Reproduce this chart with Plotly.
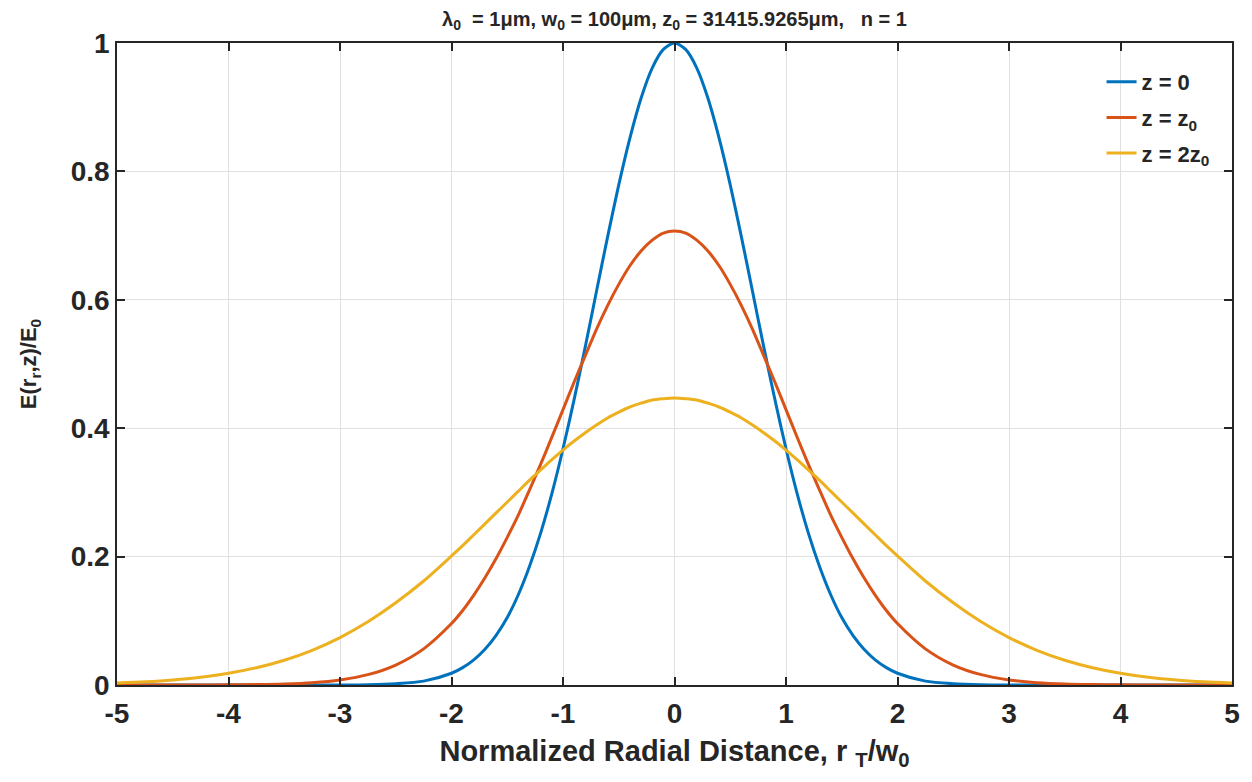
import plotly.graph_objects as go

x_vals = [-5.0, -4.75, -4.5, -4.25, -4.0, -3.75, -3.5, -3.25, -3.0, -2.75, -2.5, -2.25,
          -2.0, -1.9, -1.8, -1.7, -1.6, -1.5, -1.4, -1.3, -1.2, -1.1, -1.0, -0.9, -0.8, -0.7, -0.6, -0.5, -0.4, -0.3, -0.2, -0.1,
          0.0, 0.1, 0.2, 0.3, 0.4, 0.5, 0.6, 0.7, 0.8, 0.9, 1.0, 1.1, 1.2, 1.3, 1.4, 1.5, 1.6, 1.7, 1.8, 1.9, 2.0,
          2.25, 2.5, 2.75, 3.0, 3.25, 3.5, 3.75, 4.0, 4.25, 4.5, 4.75, 5.0]

z0_vals = [0.0, 0.0, 0.0, 0.0, 0.0, 0.0, 0.0, 0.0, 0.0001, 0.0005, 0.002, 0.006,
           0.0183, 0.0271, 0.0392, 0.0556, 0.0773, 0.105, 0.141, 0.185, 0.237, 0.298, 0.368, 0.445, 0.527, 0.613, 0.698, 0.779, 0.852, 0.914, 0.961, 0.990,
           1.000, 0.990, 0.961, 0.914, 0.852, 0.779, 0.698, 0.613, 0.527, 0.445, 0.368, 0.298, 0.237, 0.185, 0.141, 0.105, 0.0773, 0.0556, 0.0392, 0.0271, 0.0183,
           0.006, 0.002, 0.0005, 0.0001, 0.0, 0.0, 0.0, 0.0, 0.0, 0.0, 0.0, 0.0]

zz0_vals = [0.0, 0.00001, 0.00003, 0.0001, 0.0002, 0.0006, 0.0015, 0.0036, 0.0079, 0.0161, 0.0311, 0.0563,
            0.0957, 0.116, 0.140, 0.167, 0.197, 0.230, 0.265, 0.304, 0.344, 0.386, 0.429, 0.472, 0.513, 0.554, 0.591, 0.624, 0.653, 0.676, 0.693, 0.704,
            0.707, 0.704, 0.693, 0.676, 0.653, 0.624, 0.591, 0.554, 0.513, 0.472, 0.429, 0.386, 0.344, 0.304, 0.265, 0.230, 0.197, 0.167, 0.140, 0.116, 0.0957,
            0.0563, 0.0311, 0.0161, 0.0079, 0.0036, 0.0015, 0.0006, 0.0002, 0.0001, 0.00003, 0.00001, 0.0]

z2z0_vals = [0.0030, 0.0049, 0.0078, 0.0121, 0.0182, 0.0269, 0.0386, 0.0541, 0.0739, 0.0985, 0.128, 0.162,
             0.201, 0.217, 0.234, 0.251, 0.268, 0.285, 0.302, 0.319, 0.335, 0.351, 0.366, 0.380, 0.393, 0.405, 0.416, 0.425, 0.433, 0.439, 0.444, 0.446,
             0.447, 0.446, 0.444, 0.439, 0.433, 0.425, 0.416, 0.405, 0.393, 0.380, 0.366, 0.351, 0.335, 0.319, 0.302, 0.285, 0.268, 0.251, 0.234, 0.217, 0.201,
             0.162, 0.128, 0.0985, 0.0739, 0.0541, 0.0386, 0.0269, 0.0182, 0.0121, 0.0078, 0.0049, 0.0030]

series_names = ["z = 0", "z = z<sub>0</sub>", "z = 2z<sub>0</sub>"]
series_colors = ["#0072BD", "#D95319", "#EDB120"]

x_ticks = [-5, -4, -3, -2, -1, 0, 1, 2, 3, 4, 5]
x_tick_text = ["-5", "-4", "-3", "-2", "-1", "0", "1", "2", "3", "4", "5"]
y_ticks = [0, 0.2, 0.4, 0.6, 0.8, 1]
y_tick_text = ["0", "0.2", "0.4", "0.6", "0.8", "1"]

FONT = "Liberation Sans, Arial, sans-serif"
INK = "#262626"

fig = go.Figure()
for i, (vals, name, color) in enumerate(zip([z0_vals, zz0_vals, z2z0_vals], series_names, series_colors)):
    fig.add_trace(go.Scatter(x=x_vals, y=vals, mode="lines", name=name, legendgroup=f"g{i}",
                             line=dict(color=color, width=3, shape="spline", smoothing=0.8)))

axis_common = dict(
    showline=True, linecolor=INK, linewidth=1.5, mirror="ticks",
    ticks="inside", ticklen=8, tickwidth=1.5, tickcolor=INK,
    showgrid=True, gridcolor="#e0e0e0", gridwidth=1, zeroline=False,
    tickfont=dict(family=FONT, size=28, color=INK, weight="bold"),
)

# page body has an 8px margin, so the figure is sized 8px smaller on each side
fig.update_layout(
    width=1244, height=774,
    margin=dict(l=109, r=14, t=35, b=97),
    paper_bgcolor="white", plot_bgcolor="white",
    title=dict(text="λ<sub>0</sub>  = 1μm, w<sub>0</sub> = 100μm, z<sub>0</sub> = 31415.9265μm,   n = 1",
               x=0.5, xref="paper", xanchor="center", y=0.986, yref="container", yanchor="middle",
               font=dict(family=FONT, size=20, color=INK, weight="bold")),
    xaxis=dict(range=[-5, 5], tickvals=x_ticks, ticktext=x_tick_text, ticklabelstandoff=3, **axis_common,
               title=dict(text="Normalized Radial Distance, r <sub>T</sub>/w<sub>0</sub>", standoff=12,
                          font=dict(family=FONT, size=29, color=INK, weight="bold"))),
    yaxis=dict(range=[0, 1], tickvals=y_ticks, ticktext=y_tick_text, **axis_common,
               title=dict(text="E(r<sub>r</sub>,z)/E<sub>0</sub>", standoff=28,
                          font=dict(family=FONT, size=22, color=INK, weight="bold"))),
    legend=dict(x=0.883, y=0.972, xanchor="left", yanchor="top",
                bgcolor="rgba(0,0,0,0)", borderwidth=0,
                font=dict(family=FONT, size=22, color=INK, weight="bold"),
                tracegroupgap=4),
    showlegend=True,
)

fig.write_html("out.html")
